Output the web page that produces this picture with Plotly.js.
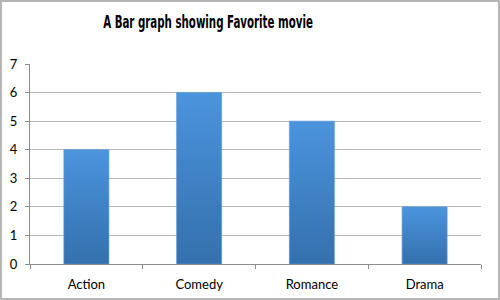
<!DOCTYPE html>
<html>
<head>
<meta charset="utf-8">
<script src="https://cdn.plot.ly/plotly-3.0.1.min.js"></script>
<style>
  html, body { margin: 0; padding: 0; background: #fff; }
  #wrap { position: relative; width: 500px; height: 300px; }
  #chart { width: 500px; height: 300px; }
  #frame { position: absolute; left: 0; top: 0; width: 500px; height: 300px; box-sizing: border-box; border: 2px solid #b5b5b5; pointer-events: none; }
</style>
</head>
<body>
<div id="wrap"><div id="chart"></div><div id="frame"></div></div>
<script>
const categories = ["Action", "Comedy", "Romance", "Drama"];
const values = [4, 6, 5, 2];
const yTicks = [0, 1, 2, 3, 4, 5, 6, 7];

const trace = {
  type: "bar",
  x: categories,
  y: values,
  width: 0.4,
  marker: { color: "#3f81c8", line: { width: 0.6, color: "#5d9ad8" } },
  hoverinfo: "x+y"
};

const layout = {
  width: 500,
  height: 300,
  margin: { l: 30, r: 19, t: 64, b: 36, pad: 0 },
  paper_bgcolor: "#ffffff",
  plot_bgcolor: "#ffffff",
  showlegend: false,
  title: {
    text: "A Bar graph showing Favorite movie",
    font: { family: "DejaVu Sans Condensed, DejaVu Sans, sans-serif", size: 18, color: "#000", weight: "bold" },
    x: 208 / 500,
    xref: "paper",
    xanchor: "center",
    y: 1 - 22 / 300,
    yanchor: "middle"
  },
  xaxis: {
    type: "category",
    tickson: "boundaries",
    ticks: "outside",
    ticklen: 4,
    tickcolor: "#8c8c8c",
    showline: true,
    linecolor: "#8c8c8c",
    linewidth: 1,
    showgrid: false,
    ticklabelstandoff: 8,
    tickfont: { family: "Lato, sans-serif", size: 13, color: "#000" },
    fixedrange: true
  },
  yaxis: {
    range: [0, 7],
    tickvals: yTicks,
    ticktext: yTicks.map(String),
    ticks: "outside",
    ticklen: 4,
    tickcolor: "#8c8c8c",
    showline: true,
    linecolor: "#8c8c8c",
    linewidth: 1,
    showgrid: true,
    gridcolor: "#b8b8b8",
    gridwidth: 1,
    zeroline: false,
    ticklabelstandoff: 5,
    tickfont: { family: "Lato, sans-serif", size: 13, color: "#000" },
    fixedrange: true
  },
  bargap: 0.6
};

Plotly.newPlot("chart", [trace], layout, { displayModeBar: false, staticPlot: true }).then(function (gd) {
  // vertical gradient fill on the bars
  const svg = gd.querySelector("svg.main-svg");
  const ns = "http://www.w3.org/2000/svg";
  let defs = svg.querySelector("defs");
  if (!defs) { defs = document.createElementNS(ns, "defs"); svg.insertBefore(defs, svg.firstChild); }
  const grad = document.createElementNS(ns, "linearGradient");
  grad.setAttribute("id", "barGrad");
  grad.setAttribute("x1", "0"); grad.setAttribute("y1", "0");
  grad.setAttribute("x2", "0"); grad.setAttribute("y2", "1");
  [["0%", "#4b94dd"], ["100%", "#3470ad"]].forEach(function (s) {
    const st = document.createElementNS(ns, "stop");
    st.setAttribute("offset", s[0]); st.setAttribute("stop-color", s[1]);
    grad.appendChild(st);
  });
  defs.appendChild(grad);
  gd.querySelectorAll(".bars .point path").forEach(function (p) {
    p.style.fill = "url(#barGrad)";
  });
  // condense title to the narrow width of the reference, centred at x=208
  const t = gd.querySelector(".gtitle");
  if (t) {
    t.removeAttribute("transform");
    const bb = t.getBBox();
    const target = 210;
    const s = target / bb.width;
    const cx = bb.x + bb.width / 2;
    t.setAttribute("transform", "translate(208,0) scale(" + s + ",1) translate(" + (-cx) + ",0)");
  }
});
</script>
</body>
</html>
